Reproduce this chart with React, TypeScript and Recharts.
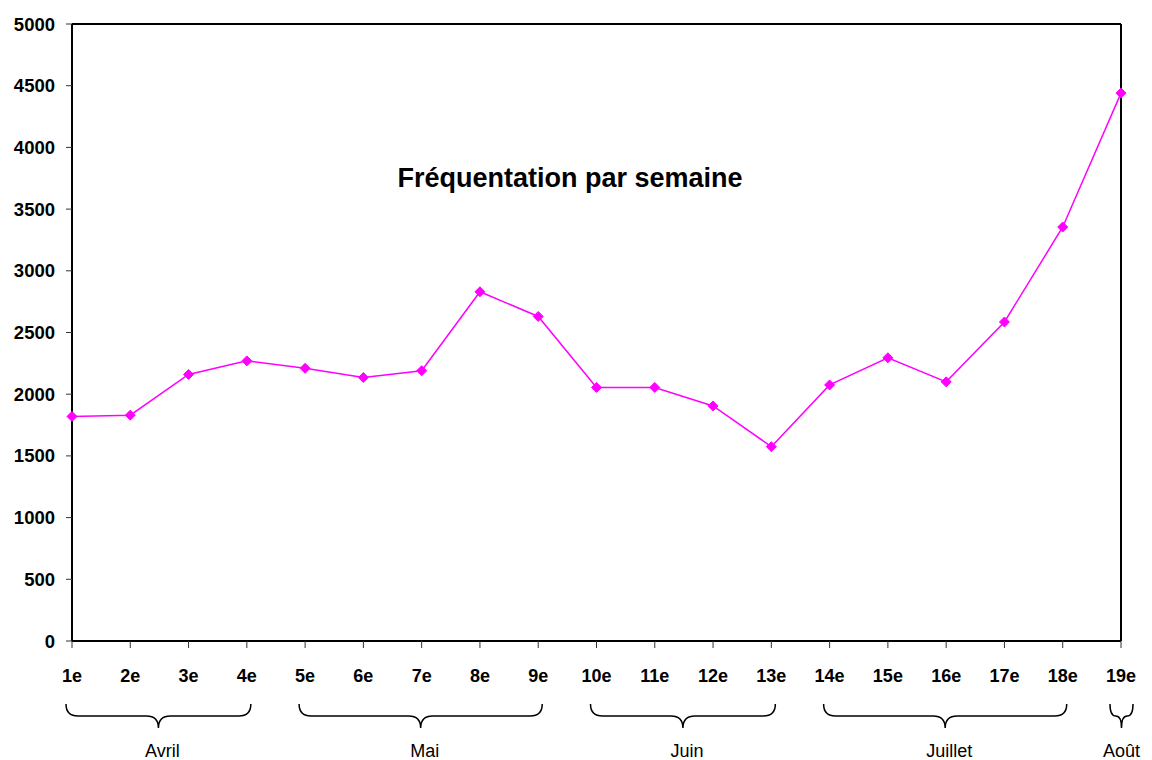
import React from "react";
import {
  LineChart, Line, XAxis, YAxis, ReferenceLine, ReferenceArea,
} from "recharts";

const weeks = [
  "1e", "2e", "3e", "4e", "5e", "6e", "7e", "8e", "9e", "10e",
  "11e", "12e", "13e", "14e", "15e", "16e", "17e", "18e", "19e",
];
const visitors = [
  1820, 1830, 2160, 2270, 2210, 2135, 2190, 2830, 2630, 2055,
  2055, 1905, 1575, 2075, 2295, 2100, 2585, 3355, 4440,
];
const yTicks = [0, 500, 1000, 1500, 2000, 2500, 3000, 3500, 4000, 4500, 5000];

const months = ["Avril", "Mai", "Juin", "Juillet", "Août"];
const monthStart = ["1e", "5e", "10e", "14e", "19e"];
const monthEnd = ["4e", "9e", "13e", "18e", "19e"];

const data = weeks.map((w, i) => ({ semaine: w, visites: visitors[i] }));

const FONT = "Liberation Sans, Arial, sans-serif";

function Diamond({ cx, cy }: any) {
  if (cx == null || cy == null) return null;
  const s = 5;
  return (
    <polygon
      points={`${cx},${cy - s} ${cx + s},${cy} ${cx},${cy + s} ${cx - s},${cy}`}
      fill="#ff00ff"
      stroke="#ff00ff"
    />
  );
}

// curly brace under the axis, with the month name below it
function Brace({ x, y, width, height, label }: any) {
  let x1 = x - 6;
  let x2 = x + width + 4;
  if (width < 1) {
    x1 = x - 11;
    x2 = x + 12;
  }
  const bottom = y + height;
  const top = bottom + 63;
  const mid = top + 12;
  const tip = mid + 12;
  const cx = (x1 + x2) / 2;
  const r = Math.min(12, (x2 - x1) / 4);
  const d = [
    `M ${x1} ${top}`,
    `Q ${x1} ${mid} ${x1 + r} ${mid}`,
    `L ${cx - r} ${mid}`,
    `Q ${cx} ${mid} ${cx} ${tip}`,
    `Q ${cx} ${mid} ${cx + r} ${mid}`,
    `L ${x2 - r} ${mid}`,
    `Q ${x2} ${mid} ${x2} ${top}`,
  ].join(" ");
  return (
    <g>
      <path d={d} fill="none" stroke="#000" strokeWidth={1.5} />
      <text
        x={width < 1 ? cx : cx + 4}
        y={bottom + 111}
        textAnchor="middle"
        dominantBaseline="middle"
        fontSize={18}
        fontFamily={FONT}
        fill="#000"
      >
        {label}
      </text>
    </g>
  );
}

export default function App() {
  return (
    <div style={{ position: "absolute", left: 0, top: 0, width: 1152, height: 760, background: "#fff" }}>
      <LineChart
        width={1152}
        height={760}
        data={data}
        margin={{ top: 24, right: 31, left: 0, bottom: 79 }}
      >
        <XAxis
          dataKey="semaine"
          scale="point"
          padding={{ left: 0, right: 0 }}
          height={40}
          interval={0}
          stroke="#000"
          axisLine={{ stroke: "#000", strokeWidth: 2 }}
          tickLine={{ stroke: "#333", strokeWidth: 1 }}
          tickSize={7}
          tickMargin={21}
          tick={{ fontSize: 18, fontWeight: 700, fill: "#000", fontFamily: FONT }}
        />
        <YAxis
          domain={[0, 5000]}
          ticks={yTicks}
          interval={0}
          width={72}
          axisLine={{ stroke: "#000", strokeWidth: 2 }}
          tickLine={{ stroke: "#333", strokeWidth: 1 }}
          tickSize={6}
          tickMargin={11}
          tick={{ fontSize: 18.5, fontWeight: 700, fill: "#000", fontFamily: FONT }}
        />
        <ReferenceLine y={5000} stroke="#000" strokeWidth={2} />
        <ReferenceLine x="19e" stroke="#000" strokeWidth={2} />
        {months.map((m, i) => (
          <ReferenceArea
            key={m}
            x1={monthStart[i]}
            x2={monthEnd[i]}
            fill="none"
            stroke="none"
            shape={(p: any) => <Brace {...p} label={m} />}
          />
        ))}
        <Line
          type="linear"
          dataKey="visites"
          stroke="#ff00ff"
          strokeWidth={1.5}
          dot={<Diamond />}
          activeDot={false}
          isAnimationActive={false}
        />
      </LineChart>
      <div
        style={{
          position: "absolute",
          left: 0,
          width: 1140,
          top: 163,
          textAlign: "center",
          fontFamily: FONT,
          fontWeight: 700,
          fontSize: 27,
          lineHeight: "30px",
          color: "#000",
        }}
      >
        Fréquentation par semaine
      </div>
    </div>
  );
}
